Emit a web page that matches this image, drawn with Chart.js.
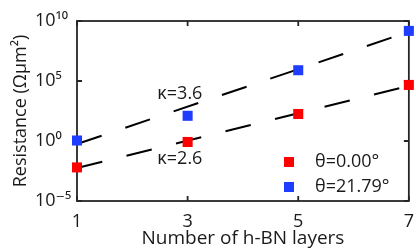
<!DOCTYPE html>
<html><head><meta charset="utf-8">
<script src="https://cdn.jsdelivr.net/npm/chart.js@4/dist/chart.umd.min.js"></script>
<style>html,body{margin:0;padding:0;background:#fff;overflow:hidden}#wrap{width:416px;height:250px}</style>
</head><body><div id="wrap"><canvas id="c" width="416" height="250"></canvas></div>
<script>
// ---- data ----
const layers = [1, 3, 5, 7];
const resistance0 = [0.0063, 0.83, 178, 4.7e4];      // θ = 0.00°
const resistance21 = [1.1, 126, 7.9e5, 1.5e9];       // θ = 21.79°
const fitLayers = [1, 7];
const fit0 = [0.0056, 3.9e4];                        // κ = 2.6 fit
const fit21 = [0.56, 1.26e9];                        // κ = 3.6 fit
const xTicks = [1, 3, 5, 7];
const yTicks = [1e-5, 1e0, 1e5, 1e10];
const yTickLabels = ['10⁻⁵', '10⁰', '10⁵', '10¹⁰'];
const seriesLabels = ['θ=0.00°', 'θ=21.79°'];
const annotationTexts = ['κ=3.6', 'κ=2.6'];
const annotationX = [2.86, 2.86];
const annotationY = [8e3, 0.032];

const FONT = "'Open Sans', 'DejaVu Sans', sans-serif";
const RED = '#ff0000';
const BLUE = '#1f3dff';
const INK = '#1a1a1a';

function swatch(color) {
  const c = document.createElement('canvas');
  c.width = 22; c.height = 10;
  const g = c.getContext('2d');
  g.fillStyle = color; g.fillRect(0, 0, 10, 10);
  return c;
}
const swatches = [swatch(RED), swatch(BLUE)];

const boxPlugin = {
  id: 'box',
  beforeDatasetsDraw(chart) {
    const {ctx, chartArea: a, scales} = chart;
    ctx.save();
    ctx.strokeStyle = '#262626';
    ctx.lineWidth = 1.8;
    ctx.strokeRect(a.left, a.top, a.right - a.left, a.bottom - a.top);
    ctx.beginPath();
    xTicks.forEach(v => {
      const px = scales.x.getPixelForValue(v);
      ctx.moveTo(px, a.bottom); ctx.lineTo(px, a.bottom - 5);
      ctx.moveTo(px, a.top); ctx.lineTo(px, a.top + 5);
    });
    yTicks.forEach(v => {
      const py = scales.y.getPixelForValue(v);
      ctx.moveTo(a.left, py); ctx.lineTo(a.left + 5, py);
      ctx.moveTo(a.right, py); ctx.lineTo(a.right - 5, py);
    });
    ctx.stroke();
    ctx.restore();
  },
  afterDatasetsDraw(chart) {
    const {ctx, scales} = chart;
    ctx.save();
    ctx.font = '18px ' + FONT;
    ctx.fillStyle = INK;
    ctx.textAlign = 'center';
    ctx.textBaseline = 'middle';
    annotationTexts.forEach((t, i) => {
      ctx.fillText(t, scales.x.getPixelForValue(annotationX[i]), scales.y.getPixelForValue(annotationY[i]));
    });
    ctx.restore();
  },
  beforeDraw(chart) {
    const lg = chart.legend;
    if (!lg) return;
    lg.left = 277; lg.right = 410;
    lg.top = 146; lg.bottom = 250;
  }
};

const toPts = (xs, ys) => xs.map((x, i) => ({x, y: ys[i]}));

new Chart(document.getElementById('c'), {
  type: 'line',
  data: {
    datasets: [
      {label: seriesLabels[0], data: toPts(layers, resistance0), showLine: false,
       pointStyle: 'rect', pointRadius: 7.1, pointHoverRadius: 7.1, backgroundColor: RED, borderColor: RED, pointBorderWidth: 0, clip: false},
      {label: seriesLabels[1], data: toPts(layers, resistance21), showLine: false,
       pointStyle: 'rect', pointRadius: 7.1, pointHoverRadius: 7.1, backgroundColor: BLUE, borderColor: BLUE, pointBorderWidth: 0, clip: false},
      {label: 'fit21', data: toPts(fitLayers, fit21), borderColor: '#000', borderWidth: 2,
       borderDash: [26, 25], pointRadius: 0, fill: false, clip: false},
      {label: 'fit0', data: toPts(fitLayers, fit0), borderColor: '#000', borderWidth: 2,
       borderDash: [26, 25], pointRadius: 0, fill: false, clip: false}
    ]
  },
  options: {
    responsive: false,
    animation: false,
    devicePixelRatio: 1,
    layout: {padding: {left: 0, right: 6, top: 21, bottom: 0}},
    plugins: {
      tooltip: {enabled: false},
      title: {display: false},
      legend: {
        display: true,
        position: 'chartArea',
        align: 'start',
        labels: {
          filter: item => item.datasetIndex < 2,
          usePointStyle: true,
          pointStyleWidth: 22,
          boxHeight: 10,
          padding: 7,
          color: INK,
          font: {size: 18, family: FONT},
          generateLabels: chart => chart.data.datasets.slice(0, 2).map((ds, i) => ({
            text: ds.label, datasetIndex: i, pointStyle: swatches[i],
            fillStyle: ds.backgroundColor, strokeStyle: ds.backgroundColor, lineWidth: 0, hidden: false,
            fontColor: INK
          }))
        }
      }
    },
    scales: {
      x: {
        type: 'linear', min: 1, max: 7,
        afterBuildTicks: s => { s.ticks = xTicks.map(v => ({value: v})); },
        ticks: {font: {size: 18, family: FONT}, color: INK, padding: 2, maxRotation: 0},
        grid: {display: false}, border: {display: false},
        title: {display: true, text: 'Number of h-BN layers', color: INK, font: {size: 19, family: FONT}, padding: {top: 0, bottom: 0}},
        afterFit: s => { s.height = 49; }
      },
      y: {
        type: 'logarithmic', position: 'left', min: 1e-5, max: 1e10, weight: 0,
        afterBuildTicks: s => { s.ticks = yTicks.map(v => ({value: v})); },
        ticks: {
          callback: v => { const i = yTicks.indexOf(v); return i >= 0 ? yTickLabels[i] : ''; },
          crossAlign: 'far', font: {size: 18, family: FONT}, color: INK, padding: 0
        },
        grid: {display: false}, border: {display: false},
        afterFit: s => { s.width = 42; }
      },
      yt: {
        type: 'linear', position: 'left', weight: 1,
        ticks: {display: false}, grid: {display: false}, border: {display: false},
        title: {display: true, text: 'Resistance (Ωμm²)', color: INK, font: {size: 18, family: FONT}, padding: {top: 10, bottom: 0}},
        afterFit: s => { s.width = 35; }
      }
    }
  },
  plugins: [boxPlugin]
});
</script>
</body></html>
